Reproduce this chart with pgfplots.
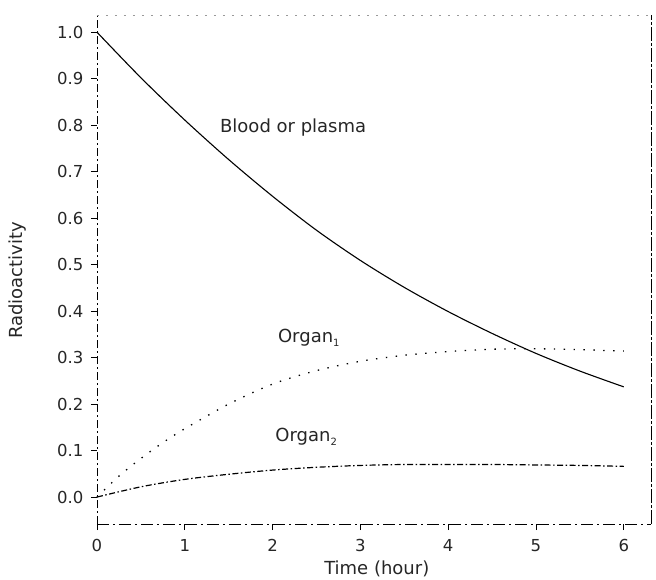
\documentclass[border=0pt]{standalone}
\usepackage{fontspec}
\setmainfont{DejaVu Sans}
\usepackage{pgfplots}
\pgfplotsset{compat=1.18}
\begin{document}
\begin{tikzpicture}
\begin{axis}[
  scale only axis, width=554pt, height=509pt,
  xmin=0, xmax=6.31, ymin=-0.058, ymax=1.037,
  xtick={0,1,2,3,4,5,6},
  ytick={0,0.1,0.2,0.3,0.4,0.5,0.6,0.7,0.8,0.9,1.0},
  tick align=outside, major tick length=6pt,
  xtick pos=bottom, ytick pos=left,
  tick style={black, line width=0.6pt},
  axis line style={draw=none},
  /pgf/number format/assume math mode=true,
  yticklabel style={/pgf/number format/fixed, /pgf/number format/fixed zerofill, /pgf/number format/precision=1, xshift=-4pt},
  xticklabel style={yshift=-6pt},
  tick label style={font=\fontsize{16.5}{19}\selectfont, text=black!85},
  ylabel={Radioactivity},
  xlabel={Time (hour)},
  ylabel style={at={(axis description cs:-0.144,0.479)}, anchor=center, font=\fontsize{18}{21}\selectfont, text=black!85},
  xlabel style={at={(axis description cs:0.505,0)}, anchor=base, yshift=-50pt, inner sep=0pt, font=\fontsize{18}{21}\selectfont, text=black!85},
  clip=false,
]
% spines (scanned look)
\draw[black, line width=0.7pt, dash pattern=on 8pt off 3pt on 2pt off 3pt] (rel axis cs:0,0) -- (rel axis cs:0,1);
\draw[black, line width=0.7pt, dash pattern=on 12pt off 4pt on 2pt off 4pt] (rel axis cs:0,0) -- (rel axis cs:1,0);
\draw[black, line width=0.7pt, dash pattern=on 14pt off 2pt on 3pt off 2pt] (rel axis cs:1,0) -- (rel axis cs:1,1);
\draw[black!40, line width=0.5pt, dash pattern=on 2pt off 7pt] (rel axis cs:0,1) -- (rel axis cs:1,1);

% Blood or plasma
\addplot[black, line width=1.1pt, smooth] coordinates {
 (0,1.0) (0.5,0.902) (1,0.811) (1.5,0.726) (2,0.647) (2.5,0.574) (3,0.509)
 (3.5,0.451) (4,0.399) (4.5,0.352) (5,0.309) (5.5,0.271) (6,0.237)};
% Organ 1
\addplot[black, line width=1.3pt, smooth, dash pattern=on 1.4pt off 8.5pt] coordinates {
 (0,0) (0.25,0.045) (0.5,0.083) (0.75,0.117) (1,0.147) (1.5,0.2) (2,0.243)
 (2.5,0.272) (3,0.292) (3.5,0.305) (4,0.313) (4.5,0.318) (5,0.319) (5.5,0.317) (6,0.314)};
% Organ 2
\addplot[black, line width=1.2pt, smooth, dash pattern=on 6pt off 2.5pt on 1.5pt off 2.5pt] coordinates {
 (0,0) (0.5,0.022) (1,0.038) (1.5,0.049) (2,0.058) (2.5,0.064) (3,0.068)
 (3.5,0.07) (4,0.07) (4.5,0.07) (5,0.069) (5.5,0.068) (6,0.066)};

\node[anchor=west, inner sep=0pt, font=\fontsize{18}{21}\selectfont, text=black!85] at (axis cs:1.40,0.794) {Blood or plasma};
\node[anchor=west, inner sep=0pt, font=\fontsize{18}{21}\selectfont, text=black!85] at (axis cs:2.06,0.342) {Organ\raisebox{-0.45ex}{\fontsize{10}{12}\selectfont 1}};
\node[anchor=west, inner sep=0pt, font=\fontsize{18}{21}\selectfont, text=black!85] at (axis cs:2.03,0.129) {Organ\raisebox{-0.45ex}{\fontsize{10}{12}\selectfont 2}};
\end{axis}
\pgfresetboundingbox
\path ([xshift=-97pt,yshift=-55pt]current axis.south west) rectangle ([xshift=5pt,yshift=15pt]current axis.north east);
\end{tikzpicture}
\end{document}
